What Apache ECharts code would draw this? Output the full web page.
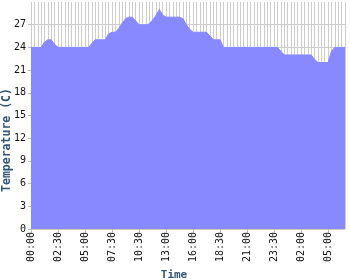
<!DOCTYPE html>
<html>
<head>
<meta charset="utf-8">
<script src="https://cdn.jsdelivr.net/npm/echarts@6/dist/echarts.min.js"></script>
<style>html,body{margin:0;padding:0;background:#fff}#c{width:350px;height:280px}</style>
</head>
<body>
<div id="c"></div>
<script>
var times = [
 '00:00','00:20','00:40','01:00','01:20','01:40','02:00','02:15',
 '02:30','02:50','03:10','03:30','03:50','04:10','04:30','04:45',
 '05:00','05:20','05:40','06:00','06:20','06:40','07:00','07:15',
 '07:30','07:50','08:15','08:35','09:00','09:20','09:45','10:05',
 '10:30','10:50','11:10','11:30','11:50','12:10','12:30','12:45',
 '13:00','13:20','13:45','14:05','14:30','14:50','15:15','15:35',
 '16:00','16:20','16:40','17:00','17:20','17:40','18:00','18:15',
 '18:30','18:50','19:10','19:30','19:50','20:10','20:30','20:45',
 '21:00','21:20','21:40','22:00','22:20','22:40','23:00','23:15',
 '23:30','23:50','00:10','00:30','00:50','01:10','01:30','01:45',
 '02:00','02:20','02:45','03:05','03:30','03:50','04:15','04:35',
 '05:00','05:20','05:40','06:00','06:20','06:40'
];
var temps = [
 24,24,24,24,24.7,25,25,24.4,
 24,24,24,24,24,24,24,24,
 24,24,24.5,25,25,25,25,25.8,
 26,26,26.5,27.2,27.8,28,28,27.5,
 27,27,27,27.1,27.6,28.2,29,28.3,
 28,28,28,28,28,27.8,27,26.4,
 26,26,26,26,26,25.5,25,25,
 25,24,24,24,24,24,24,24,
 24,24,24,24,24,24,24,24,
 24,24,23.5,23,23,23,23,23,
 23,23,23,23,22.4,22,22,22,
 22,23.5,24,24,24,24
];
var yMin = 0, yMax = 30, yStep = 3;
var xTitle = 'Time';
var yTitle = 'Temperature (C)';

var chart = echarts.init(document.getElementById('c'), null, {renderer: 'canvas'});
var nameColor = '#335577';
chart.setOption({
  animation: false,
  grid: {left: 31, right: 5, top: 2, bottom: 51, containLabel: false, outerBoundsMode: 'none'},
  graphic: [{
    type: 'text',
    x: 7, y: 140,
    rotation: Math.PI / 2,
    style: {
      text: yTitle,
      align: 'center',
      verticalAlign: 'middle',
      fill: nameColor,
      font: 'bold 11.5px "DejaVu Sans Mono"'
    }
  }],
  xAxis: {
    type: 'category',
    data: times,
    boundaryGap: false,
    name: xTitle,
    nameLocation: 'middle',
    nameGap: 38,
    nameTextStyle: {color: nameColor, fontFamily: 'DejaVu Sans Mono', fontWeight: 'bold', fontSize: 11, padding: [0, 28, 0, 0]},
    axisLine: {show: false},
    axisTick: {show: true, interval: 7, length: 4, lineStyle: {color: '#bbbbbb'}},
    axisLabel: {interval: 7, rotate: 90, margin: 3, color: '#111', fontFamily: 'DejaVu Sans Mono', fontSize: 10},
    splitLine: {show: true, interval: 0, lineStyle: {color: '#cccccc', width: 1}}
  },
  yAxis: {
    type: 'value',
    min: yMin, max: yMax, interval: yStep,
    axisLine: {show: false},
    axisTick: {show: true, length: 3, lineStyle: {color: '#bbbbbb'}},
    axisLabel: {margin: 5, color: '#111', fontFamily: 'DejaVu Sans Mono', fontSize: 10, showMaxLabel: false},
    splitLine: {show: true, lineStyle: {color: ['#cccccc','#cccccc','#cccccc','#cccccc','#cccccc','#cccccc','#cccccc','#cccccc','#cccccc','#cccccc','rgba(0,0,0,0)']}}
  },
  series: [{
    type: 'line',
    data: temps,
    showSymbol: false,
    symbol: 'none',
    lineStyle: {width: 1, color: '#8888ff'},
    areaStyle: {color: '#8888ff', opacity: 1}
  }]
});
</script>
</body>
</html>
